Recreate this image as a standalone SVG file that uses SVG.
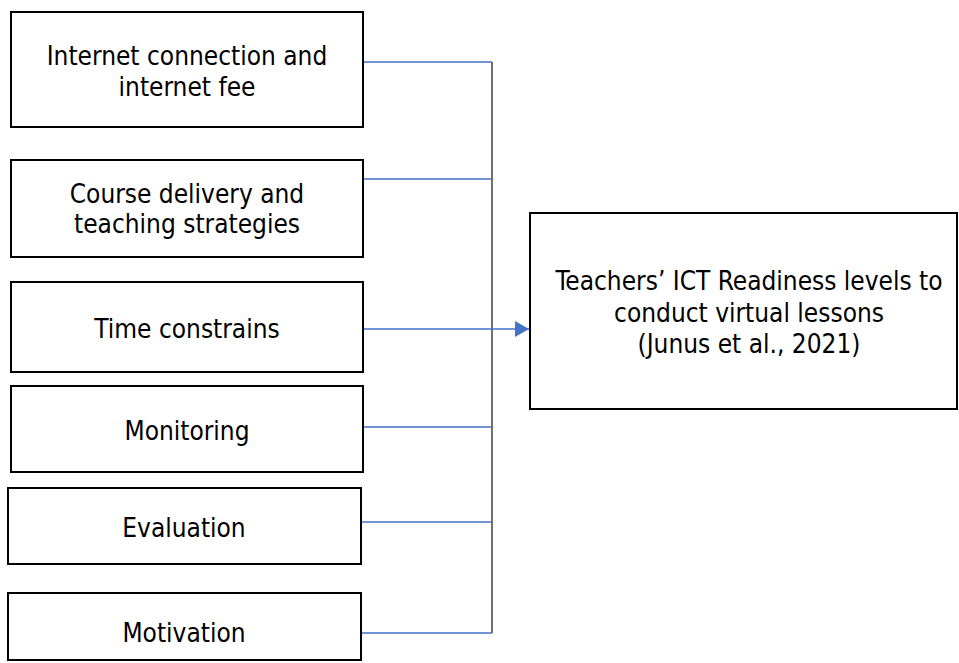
<svg xmlns="http://www.w3.org/2000/svg" width="959" height="663" viewBox="0 0 959 663">
<style>
.box{fill:#fff;stroke:#000;stroke-width:2}
.t{font-family:"DejaVu Sans Condensed","DejaVu Sans",Verdana,sans-serif;font-stretch:condensed;font-size:26px;fill:#000;text-anchor:middle}
.c{stroke:#4472C4;stroke-width:1.3;fill:none}
.v{stroke:#222;stroke-width:1.3;fill:none}
</style>
<defs>
<marker id="ah" markerWidth="14" markerHeight="16" refX="14" refY="8" orient="auto" markerUnits="userSpaceOnUse">
<path d="M0,0 L14,8 L0,16 Z" fill="#4472C4"/>
</marker>
</defs>
<g id="connectors">
<line class="v" x1="492" y1="62" x2="492" y2="633"/>
<line class="c" x1="363" y1="62" x2="492" y2="62"/>
<line class="c" x1="363" y1="179" x2="492" y2="179"/>
<line class="c" x1="363" y1="329" x2="529" y2="329" marker-end="url(#ah)"/>
<line class="c" x1="363" y1="427" x2="492" y2="427"/>
<line class="c" x1="361" y1="522" x2="492" y2="522"/>
<line class="c" x1="361" y1="633" x2="492" y2="633"/>
</g>
<g id="n1">
<rect class="box" x="11" y="12" width="352" height="115"/>
<text class="t" x="187" y="65">Internet connection and</text>
<text class="t" x="187" y="96">internet fee</text>
</g>
<g id="n2">
<rect class="box" x="11" y="160" width="352" height="97"/>
<text class="t" x="187" y="203">Course delivery and</text>
<text class="t" x="187" y="233">teaching strategies</text>
</g>
<g id="n3">
<rect class="box" x="11" y="282" width="352" height="90"/>
<text class="t" x="187" y="338">Time constrains</text>
</g>
<g id="n4">
<rect class="box" x="11" y="386" width="352" height="86"/>
<text class="t" x="187" y="440">Monitoring</text>
</g>
<g id="n5">
<rect class="box" x="8" y="488" width="353" height="76"/>
<text class="t" x="184" y="537">Evaluation</text>
</g>
<g id="n6">
<rect class="box" x="8" y="593" width="353" height="67"/>
<text class="t" x="184" y="642">Motivation</text>
</g>
<g id="n7">
<rect class="box" x="530" y="213" width="427" height="196"/>
<text class="t" x="749" y="290">Teachers’ ICT Readiness levels to</text>
<text class="t" x="749" y="322">conduct virtual lessons</text>
<text class="t" x="749" y="353">(Junus et al., 2021)</text>
</g>
</svg>
